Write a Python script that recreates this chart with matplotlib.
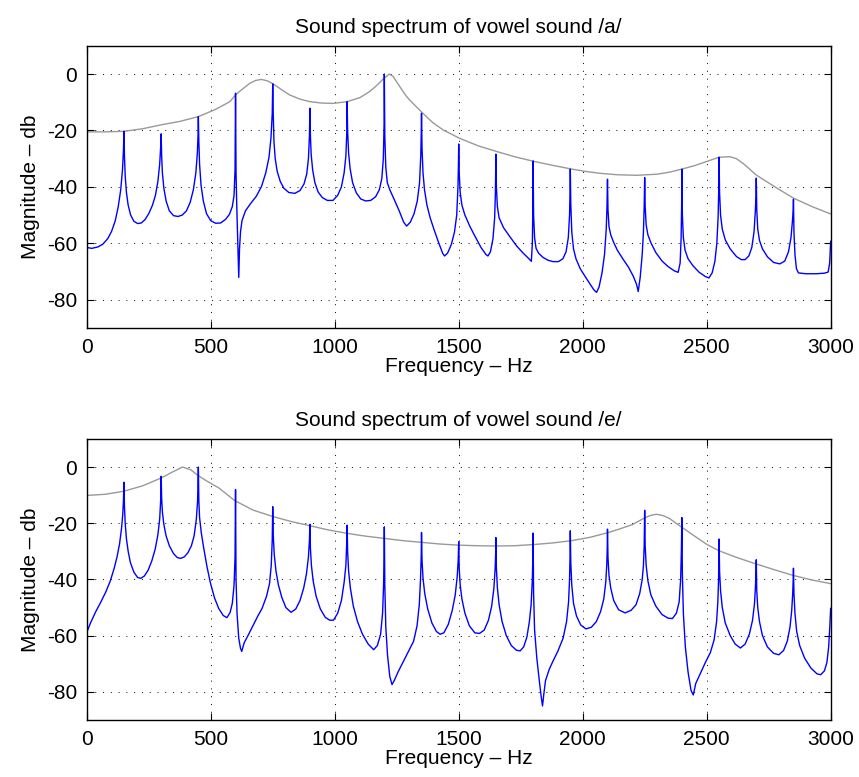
import matplotlib
matplotlib.use('Agg')
import matplotlib.pyplot as plt

plt.rcParams['font.family'] = ['Liberation Sans', 'DejaVu Sans']
plt.rcParams['axes.unicode_minus'] = False

# Vowel /a/ : harmonic spectrum (blue), one harmonic gap per line
freq_a = [0, 1, 20, 45, 65, 85, 100, 115, 127, 137, 144, 148, 150,
          152, 155, 160, 167, 177, 190, 205, 220, 235, 250, 265, 277, 287, 294, 298, 300,
          302, 305, 311, 320, 333, 350, 368, 385, 402, 417, 430, 440, 446, 449, 450,
          452, 455, 461, 470, 483, 500, 520, 540, 560, 575, 587, 594, 598, 600,
          602, 605, 609, 613, 616, 620, 626, 640, 660, 684, 705, 722, 735, 743, 748, 750,
          752, 755, 760, 768, 780, 795, 815, 839, 860, 876, 887, 894, 898, 900,
          902, 905, 911, 920, 933, 950, 970, 993, 1012, 1027, 1038, 1045, 1049, 1050,
          1052, 1056, 1062, 1072, 1087, 1105, 1125, 1145, 1165, 1180, 1190, 1196, 1199, 1200,
          1202, 1206, 1212, 1222, 1240, 1260, 1278, 1290, 1305, 1320, 1333, 1342, 1347, 1349, 1350,
          1352, 1356, 1362, 1372, 1385, 1400, 1418, 1435, 1443, 1455, 1470, 1483, 1492, 1497, 1499, 1500,
          1502, 1506, 1513, 1525, 1545, 1565, 1590, 1610, 1618, 1628, 1638, 1645, 1648, 1650,
          1652, 1656, 1663, 1681, 1705, 1734, 1760, 1780, 1793, 1797, 1799, 1800,
          1802, 1806, 1812, 1822, 1840, 1860, 1880, 1902, 1920, 1933, 1942, 1947, 1949, 1950,
          1952, 1956, 1963, 1973, 1990, 2010, 2030, 2045, 2056, 2066, 2078, 2088, 2095, 2098, 2100,
          2102, 2106, 2113, 2124, 2140, 2164, 2185, 2204, 2217, 2224, 2232, 2240, 2245, 2248, 2250,
          2252, 2256, 2263, 2275, 2295, 2320, 2345, 2370, 2385, 2393, 2397, 2399, 2400,
          2402, 2406, 2413, 2425, 2445, 2470, 2495, 2509, 2522, 2533, 2541, 2546, 2549, 2550,
          2552, 2556, 2563, 2575, 2595, 2620, 2640, 2655, 2670, 2682, 2691, 2696, 2699, 2700,
          2702, 2706, 2713, 2725, 2745, 2770, 2795, 2815, 2830, 2840, 2846, 2849, 2850,
          2852, 2856, 2862, 2870, 2900, 2942, 2975, 2990, 2996, 3000]
db_a = [-20.5, -61.5, -61.8, -61.3, -60.3, -58.3, -55.8, -52, -47, -41, -34, -27, -20.3,
        -29, -36, -42, -46.5, -50, -52.2, -53, -52.8, -51.6, -49.5, -46.5, -43, -38, -32, -26, -21.2,
        -29, -35, -40.5, -45, -48.5, -50.2, -50.5, -50, -48.5, -45.5, -41, -35, -28, -21, -15.1,
        -24, -32, -39.5, -45, -49.5, -52, -52.9, -52.8, -51.5, -49.8, -47, -43, -34, -6.8,
        -35, -47, -60, -72.1, -62, -56, -52, -48.5, -46, -43.3, -39.8, -35, -29.5, -22.5, -14, -3.5,
        -14, -24, -30, -34.5, -38, -40.5, -42, -42.3, -41.3, -39, -35.5, -30, -22, -12.1,
        -22, -28.5, -34, -38.5, -41.8, -43.8, -44.8, -44.8, -43, -40, -35, -29, -20, -9.8,
        -20, -28, -33.5, -38.5, -42.1, -44.3, -45, -44.8, -43.5, -41, -37, -30, -18, 0,
        -22, -33, -38.5, -41, -44.5, -48.5, -52.5, -53.9, -52.5, -49.5, -45, -38.6, -29, -21, -13.9,
        -26, -35, -41, -46.5, -51, -55, -59.5, -63.5, -64.5, -63.5, -60.5, -56, -50, -40, -32, -24.8,
        -35, -42, -46.5, -50, -54, -57.4, -61.5, -64, -64.5, -63, -58.5, -51, -42, -28.4,
        -40, -47, -51, -54.5, -57.5, -61, -63.5, -65.2, -66.4, -60, -48, -30.8,
        -50, -58, -61.8, -63.5, -65, -66, -66.5, -66.5, -65.5, -63, -58, -50, -42, -33.7,
        -46, -56, -62, -65.5, -69, -71.8, -74.5, -76.5, -77.4, -75.5, -70.5, -64, -55, -47, -37.3,
        -48, -54, -57, -59.5, -62.5, -65.8, -68.5, -71.7, -74.5, -77.1, -72, -64, -56, -47, -36.7,
        -47, -53.5, -57, -59.8, -63.3, -66.3, -68.3, -69.8, -70.3, -67, -58, -47, -33.7,
        -50, -58, -62.5, -65.5, -68, -70.3, -71.8, -72.3, -70.5, -66.5, -60, -51, -40, -29.5,
        -42, -50, -55, -58.8, -62, -64.7, -65.8, -65.8, -64.5, -61.5, -56, -49, -43, -36.9,
        -48, -55, -59, -62, -64.8, -66.8, -67.3, -66.3, -63, -58, -52, -48, -44.4,
        -56, -64, -69, -70.5, -70.8, -70.8, -70.6, -70.2, -67, -59.3]

# Vowel /a/ : formant envelope (grey)
env_freq_a = [0, 75, 150, 225, 300, 375, 450, 520, 577, 603, 630, 657, 680, 704, 728, 752,
              785, 818, 860, 900, 950, 993, 1050, 1103, 1141, 1170, 1195, 1220, 1235, 1250,
              1265, 1285, 1302, 1352, 1395, 1437, 1504, 1580, 1651, 1725, 1800, 1875, 1950,
              2010, 2070, 2140, 2218, 2300, 2350, 2400, 2450, 2500, 2550, 2593, 2620, 2650,
              2700, 2775, 2850, 2925, 3000]
env_db_a = [-20.5, -20.5, -20.3, -19.4, -18, -16.8, -15.1, -12.5, -9.8, -7.1, -5.2, -3.3, -2.3, -1.9, -2.4, -3.5,
            -5.5, -7.4, -8.9, -9.8, -10.3, -10.4, -9.8, -8.3, -6.2, -4, -1.8, 0, -0.8, -2.8,
            -4.8, -7.4, -9.2, -13.6, -17.2, -19.8, -22.8, -25.5, -27.4, -29.3, -30.9, -32.3, -33.6,
            -34.5, -35.2, -35.7, -35.9, -35.5, -34.8, -33.7, -32.5, -31, -29.5, -29.3, -30, -31.9,
            -35.8, -40, -44, -47, -49.6]

# Vowel /e/ : harmonic spectrum (blue)
freq_e = [0, 1, 15, 36, 57, 77, 95, 110, 122, 132, 140, 145, 148, 150,
          152, 155, 160, 167, 176, 190, 205, 218, 232, 247, 262, 276, 287, 294, 298, 300,
          302, 305, 311, 320, 333, 350, 365, 378, 393, 408, 422, 433, 442, 447, 450,
          452, 455, 462, 472, 485, 498, 515, 532, 550, 565, 578, 587, 594, 598, 600,
          602, 606, 613, 620, 625, 635, 650, 670, 690, 707, 725, 737, 744, 748, 750,
          752, 756, 763, 773, 787, 803, 824, 843, 860, 875, 886, 894, 898, 900,
          902, 906, 913, 925, 942, 962, 980, 995, 1012, 1027, 1038, 1045, 1048, 1050,
          1052, 1056, 1063, 1075, 1092, 1112, 1135, 1157, 1172, 1185, 1193, 1197, 1199, 1200,
          1202, 1206, 1213, 1222, 1231, 1240, 1255, 1275, 1298, 1318, 1332, 1341, 1346, 1349, 1350,
          1352, 1356, 1363, 1375, 1392, 1410, 1425, 1440, 1458, 1474, 1486, 1494, 1498, 1500,
          1502, 1506, 1513, 1525, 1543, 1565, 1584, 1603, 1620, 1633, 1642, 1647, 1649, 1650,
          1652, 1656, 1663, 1675, 1692, 1712, 1733, 1748, 1762, 1775, 1785, 1792, 1797, 1799, 1800,
          1802, 1806, 1815, 1825, 1833, 1838, 1843, 1850, 1865, 1880, 1900, 1921, 1935, 1943, 1947, 1949, 1950,
          1952, 1956, 1963, 1975, 1992, 2013, 2035, 2055, 2072, 2085, 2093, 2097, 2099, 2100,
          2102, 2106, 2113, 2125, 2145, 2171, 2195, 2215, 2230, 2240, 2245, 2248, 2250,
          2252, 2256, 2263, 2275, 2295, 2320, 2345, 2362, 2378, 2389, 2395, 2398, 2400,
          2402, 2406, 2414, 2425, 2437, 2446, 2456, 2472, 2495, 2515, 2530, 2540, 2545, 2548, 2550,
          2552, 2556, 2563, 2575, 2595, 2615, 2636, 2655, 2672, 2685, 2693, 2697, 2699, 2700,
          2702, 2706, 2713, 2725, 2745, 2770, 2791, 2810, 2825, 2836, 2843, 2847, 2849, 2850,
          2852, 2856, 2863, 2875, 2895, 2920, 2945, 2960, 2975, 2985, 2992, 2997, 3000]
db_e = [-5.6, -58.6, -55.5, -51.5, -48, -44.4, -40.5, -36.2, -32, -27.5, -22, -17, -12, -5.4,
        -14, -20, -25.5, -30, -34, -37.4, -39.3, -39.6, -38.8, -36.8, -33.5, -29.2, -24, -18.6, -12, -3.3,
        -11, -16, -20.5, -24.5, -28, -30.8, -32.2, -32.5, -32, -30.5, -28, -24.5, -18.5, -12, 0,
        -12, -18, -23.5, -29, -35.5, -41, -46.5, -50.3, -52.8, -53.6, -51.8, -48.5, -42, -32, -8,
        -40, -52, -61, -64.5, -65.6, -62.5, -60, -56.5, -53, -50.3, -46, -41.5, -35, -26, -14.1,
        -24, -31, -37, -42, -46.5, -50, -51.7, -50.5, -47.5, -43, -38, -32, -26, -20.4,
        -29, -35, -40.5, -46, -50.5, -53.5, -54.5, -54.5, -52, -47.5, -41, -35, -28, -20.7,
        -30, -37, -43, -49.5, -55, -59.5, -63, -65, -63.5, -59.5, -52, -42, -32, -21.3,
        -42, -57, -67, -74.5, -77.4, -76, -73, -69.5, -65.5, -62, -56.5, -49, -40, -31, -23.3,
        -33, -39.5, -45, -50.5, -55.5, -58.5, -59.5, -59, -56, -51, -45.5, -39, -33, -26.6,
        -36, -42, -47, -52, -56.5, -59, -59.2, -58, -54.5, -49.5, -43, -36, -31, -25.1,
        -36, -43, -49, -55, -60, -63.5, -65.2, -65.4, -64, -60.5, -55, -49, -40, -32, -23.5,
        -45, -58, -68, -76, -82, -85, -81, -76, -72, -69.1, -65.5, -60.9, -55, -48, -40, -32, -22.7,
        -34, -42, -48.5, -53, -56.2, -57.6, -57, -55, -51.5, -47, -41, -35, -29, -22.1,
        -32, -38.5, -43, -47.5, -50.8, -51.9, -51, -49, -45, -40, -35, -28, -15.4,
        -28, -35, -40.5, -45.5, -49.5, -52.5, -53.8, -53.9, -52, -48, -40, -30, -18,
        -38, -52, -64, -73, -79.5, -81.1, -77, -73.9, -69.5, -66, -61.5, -55, -48, -40, -25.6,
        -37, -44, -50, -55.5, -60, -63, -64.4, -63, -59.5, -54.5, -48.5, -42, -37, -33,
        -44, -50, -55, -60, -64, -66.3, -66.8, -65.3, -62, -57, -51, -45, -40, -36,
        -45, -52, -58.5, -63.5, -68, -71.5, -73.6, -73.9, -72.5, -69.5, -64, -56, -50.3]

# Vowel /e/ : formant envelope (grey)
env_freq_e = [0, 75, 150, 225, 300, 345, 386, 420, 450, 490, 532, 596, 670, 750, 825, 900,
              975, 1050, 1125, 1200, 1275, 1350, 1425, 1500, 1575, 1650, 1725, 1800, 1880,
              1955, 2030, 2104, 2150, 2200, 2252, 2275, 2297, 2325, 2350, 2391, 2450, 2500,
              2550, 2625, 2700, 2775, 2850, 2925, 3000]
env_db_e = [-10.1, -9.7, -8.6, -6.7, -3.9, -1.8, 0, -1, -3.1, -5.3, -7.4, -11.9, -15.3, -17.6, -19.4, -20.9,
            -22.4, -23.6, -24.6, -25.4, -26.2, -26.8, -27.4, -27.8, -28, -28.1, -28, -27.6, -27,
            -26.2, -25, -23.3, -22, -20.5, -18, -17.2, -16.8, -17.3, -18.3, -20.9, -24.5, -27.5,
            -29.8, -32.3, -34.5, -36.6, -38.6, -40.2, -41.5]

panels = [
    (freq_a, db_a, env_freq_a, env_db_a, 'Sound spectrum of vowel sound /a/'),
    (freq_e, db_e, env_freq_e, env_db_e, 'Sound spectrum of vowel sound /e/'),
]

fig = plt.figure(figsize=(8.59, 7.77), dpi=100)
rects = [[0.101, 0.578, 0.866, 0.363], [0.101, 0.0734, 0.866, 0.3617]]

for rect, (f, d, ef, ed, title) in zip(rects, panels):
    ax = fig.add_axes(rect)
    ax.plot(ef, ed, color='#999999', lw=1)
    ax.plot(f, d, color='#0000ff', lw=1)
    ax.set_xlim(0, 3000)
    ax.set_ylim(-90, 10)
    ax.set_xticks([0, 500, 1000, 1500, 2000, 2500, 3000])
    ax.set_yticks([-80, -60, -40, -20, 0])
    ax.grid(True, color='black', linestyle=(0, (1, 7)), linewidth=0.7)
    ax.tick_params(direction='in', top=True, right=True, length=5, labelsize=15, pad=7)
    for s in ax.spines.values():
        s.set_linewidth(1)
    ax.set_title(title, fontsize=15, pad=9)
    ax.set_xlabel('Frequency – Hz', fontsize=15, labelpad=0)
    ax.set_ylabel('Magnitude – db', fontsize=15, labelpad=5)

plt.savefig('out.png', dpi=100)
